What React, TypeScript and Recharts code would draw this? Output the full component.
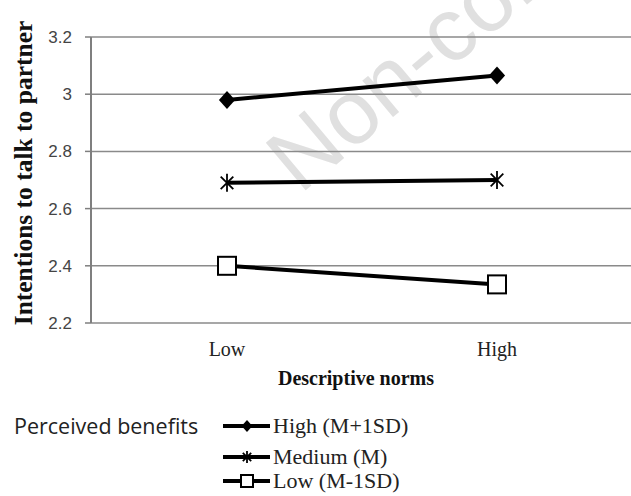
import { CartesianGrid, Label, Line, LineChart, XAxis, YAxis } from "recharts";

// Descriptive norms (x) by perceived benefits (series)
const normLevels = ["Low", "High"];
const edgeTicks = [0, 1, 2];
const yTicks = [2.2, 2.4, 2.6, 2.8, 3, 3.2];
const highBenefits = [2.98, 3.065];
const mediumBenefits = [2.69, 2.7];
const lowBenefits = [2.4, 2.335];

const seriesList = [
    { key: "high", name: "High (M+1SD)", values: highBenefits, marker: "diamond" },
    { key: "medium", name: "Medium (M)", values: mediumBenefits, marker: "star" },
    { key: "low", name: "Low (M-1SD)", values: lowBenefits, marker: "square" },
];

const data = normLevels.map((norm, i) => {
    const row: Record<string, string | number> = { norm, edge: i + 0.5 };
    seriesList.forEach((s) => {
        row[s.key] = s.values[i];
    });
    return row;
});

const serif = "'Liberation Serif', 'Times New Roman', serif";
const sans = "'Liberation Sans', Arial, sans-serif";
const axisGray = "#7f7f7f";

function Marker({ type, cx, cy, r }: { type: string; cx: number; cy: number; r: number }) {
    if (type === "diamond") {
        const rx = r * 0.9;
        return (
            <polygon
                points={`${cx},${cy - r} ${cx + rx},${cy} ${cx},${cy + r} ${cx - rx},${cy}`}
                fill="#000"
            />
        );
    }
    if (type === "star") {
        const d = r * 0.7;
        return (
            <g stroke="#000" strokeWidth={1.8}>
                <line x1={cx - d} y1={cy - d} x2={cx + d} y2={cy + d} />
                <line x1={cx - d} y1={cy + d} x2={cx + d} y2={cy - d} />
                <line x1={cx} y1={cy - r} x2={cx} y2={cy + r} />
            </g>
        );
    }
    return (
        <rect x={cx - r} y={cy - r} width={r * 2} height={r * 2} fill="#fff" stroke="#000" strokeWidth={2} />
    );
}

function YTitle(props: any) {
    const vb = props.viewBox || { x: 0, y: 37, width: 91, height: 286 };
    const x = vb.x + 23;
    const y = vb.y + vb.height / 2 - 7;
    return (
        <text
            x={x}
            y={y}
            transform={`rotate(-90, ${x}, ${y})`}
            textAnchor="middle"
            dominantBaseline="central"
            fontFamily={serif}
            fontWeight="bold"
            fontSize={25.5}
            fill="#111"
        >
            Intentions to talk to partner
        </text>
    );
}

function XTitle(props: any) {
    const vb = props.viewBox || { x: 91, y: 323, width: 542, height: 60 };
    return (
        <text
            x={vb.x + vb.width / 2 - 6}
            y={378}
            textAnchor="middle"
            dominantBaseline="central"
            fontFamily={serif}
            fontWeight="bold"
            fontSize={20}
            fill="#111"
        >
            Descriptive norms
        </text>
    );
}

export default function App() {
    return (
        <div
            style={{
                position: "absolute",
                left: 0,
                top: 0,
                width: 631,
                height: 496,
                overflow: "hidden",
                background: "#fff",
            }}
        >
            {/* faint watermark behind the plot */}
            <svg width={631} height={496} style={{ position: "absolute", left: 0, top: 0 }}>
                <text
                    x={300}
                    y={195}
                    transform="rotate(-40, 300, 195)"
                    fontFamily={sans}
                    fontSize={90}
                    fill="#e0e0e0"
                >
                    Non-commercial use only
                </text>
            </svg>

            <div style={{ position: "absolute", left: 0, top: 0 }}>
                <LineChart width={660} height={496} data={data} margin={{ top: 37, right: 27, left: 0, bottom: 113 }}>
                    <CartesianGrid vertical={false} stroke="#8a8a8a" strokeWidth={1.5} />
                    <XAxis
                        xAxisId="edge"
                        type="number"
                        dataKey="edge"
                        domain={[0, 2]}
                        ticks={edgeTicks}
                        tick={false}
                        tickSize={6}
                        height={0}
                        axisLine={{ stroke: axisGray, strokeWidth: 2 }}
                        tickLine={{ stroke: axisGray, strokeWidth: 1.5 }}
                    />
                    <XAxis
                        xAxisId="cat"
                        dataKey="norm"
                        padding={{ left: 136, right: 136 }}
                        axisLine={false}
                        tickLine={false}
                        tickSize={0}
                        tickMargin={19}
                        height={60}
                        tick={{ fill: "#222", fontSize: 20, fontFamily: serif }}
                    >
                        <Label content={<XTitle />} />
                    </XAxis>
                    <YAxis
                        width={91}
                        domain={[2.2, 3.2]}
                        ticks={yTicks}
                        interval={0}
                        tickSize={6}
                        tickMargin={13}
                        axisLine={{ stroke: axisGray, strokeWidth: 2 }}
                        tickLine={{ stroke: axisGray, strokeWidth: 1.5 }}
                        tick={{ fill: "#444", fontSize: 17, fontFamily: sans }}
                    >
                        <Label content={<YTitle />} />
                    </YAxis>
                    {seriesList.map((s) => (
                        <Line
                            key={s.key}
                            xAxisId="cat"
                            dataKey={s.key}
                            name={s.name}
                            stroke="#000"
                            strokeWidth={4}
                            isAnimationActive={false}
                            dot={(p: any) => (
                                <Marker key={`${s.key}-${p.index}`} type={s.marker} cx={p.cx} cy={p.cy} r={9} />
                            )}
                            activeDot={false}
                        />
                    ))}
                </LineChart>
            </div>

            {/* legend */}
            <div
                style={{
                    position: "absolute",
                    left: 14,
                    top: 425,
                    transform: "translateY(-50%)",
                    fontFamily: "'Open Sans', 'Noto Sans', sans-serif",
                    fontSize: 21.5,
                    color: "#222",
                    whiteSpace: "nowrap",
                }}
            >
                Perceived benefits
            </div>
            {seriesList.map((s, i) => {
                const cy = [426, 457, 481][i];
                return (
                    <div
                        key={s.key}
                        style={{
                            position: "absolute",
                            left: 221,
                            top: cy - 13,
                            height: 26,
                            display: "flex",
                            alignItems: "center",
                            whiteSpace: "nowrap",
                        }}
                    >
                        <svg width={51} height={26}>
                            <line x1={2} y1={13} x2={49} y2={13} stroke="#000" strokeWidth={4} />
                            <Marker type={s.marker} cx={26} cy={13} r={6} />
                        </svg>
                        <span style={{ fontFamily: serif, fontSize: 22, color: "#222", marginLeft: 1 }}>{s.name}</span>
                    </div>
                );
            })}
        </div>
    );
}
